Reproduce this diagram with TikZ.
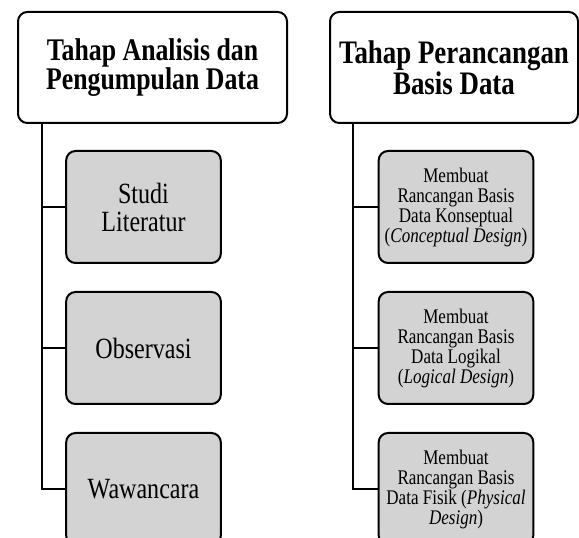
\documentclass[tikz,border=0pt]{standalone}
\usepackage{fontspec}
\setmainfont[FakeStretch=0.82]{Liberation Serif}
\usetikzlibrary{positioning}
\definecolor{itemgray}{RGB}{211,211,211}

\begin{document}
\begin{tikzpicture}[
    x=0.75pt, y=-0.75pt,
    node distance=20.25pt,
    headbox/.style={
        draw,
        rounded corners=7pt,
        line width=1.5pt,
        fill=white,
        minimum height=83.25pt,
        align=center,
        font=\fontsize{23.6}{20.6}\selectfont\bfseries
    },
    itembox/.style={
        draw,
        rounded corners=7pt,
        line width=1.5pt,
        fill=itemgray,
        minimum width=116pt,
        minimum height=84pt,
        inner sep=2pt,
        align=center
    },
    bigtext/.style={font=\fontsize{22}{21}\selectfont},
    smalltext/.style={font=\fontsize{15.6}{15}\selectfont},
    link/.style={
        line width=1.5pt
    }
]
\useasboundingbox (0,0) rectangle (579,538);

% Nodes
\node (lhead) [headbox, minimum width=201.75pt] at (152.5,67.5) {Tahap Analisis dan\\Pengumpulan Data};
\node (rhead) [headbox, minimum width=186pt, font=\fontsize{24.6}{20.6}\selectfont\bfseries] at (454,67.5) {Tahap Perancangan\\Basis Data};

\node (studi) [itembox, bigtext] at (143.5,207)   {Studi\\Literatur};
\node (obs)   [itembox, bigtext, below=of studi]  {Observasi};
\node (waw)   [itembox, bigtext, below=of obs]    {Wawancara};

\node (konsep) [itembox, smalltext] at (456,207)   {Membuat\\Rancangan Basis\\Data Konseptual\\(\textit{Conceptual Design})};
\node (logis)  [itembox, smalltext, below=of konsep] {Membuat\\Rancangan Basis\\Data Logikal\\(\textit{Logical Design})};
\node (fisik)  [itembox, smalltext, below=of logis]  {Membuat\\Rancangan Basis\\Data Fisik (\textit{Physical}\\\textit{Design})};

% Lines
\coordinate (ltrunk) at ([xshift=18.75pt]lhead.south west);
\coordinate (rtrunk) at ([xshift=18pt]rhead.south west);
\draw[link] (ltrunk) |- (waw.west);
\draw[link] (rtrunk) |- (fisik.west);
\foreach \c in {studi,obs}
    \draw[link] (ltrunk |- \c.west) -- (\c.west);
\foreach \c in {konsep,logis}
    \draw[link] (rtrunk |- \c.west) -- (\c.west);

\end{tikzpicture}
\end{document}
